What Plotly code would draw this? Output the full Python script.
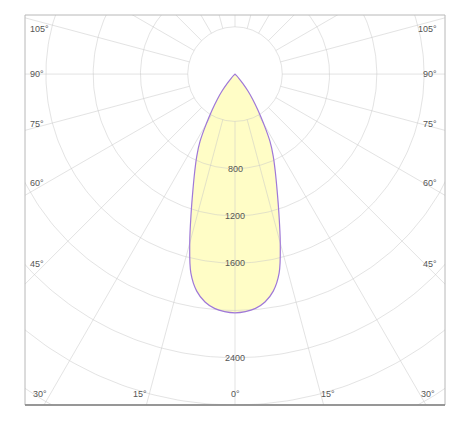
import numpy as np
import plotly.graph_objects as go

# ---- data ----
gamma_deg = [0, 2.5, 5, 7.5, 10, 12.5, 15, 17.5, 20, 22.5, 25, 27.5, 30, 32.5,
             35, 37.5, 40, 42.5, 45, 50, 60, 70, 80, 90]
intensity_cd = [2020, 2012, 1990, 1945, 1865, 1725, 1480, 1235, 1040, 890, 765, 640,
                485, 360, 262, 178, 102, 48, 16, 0, 0, 0, 0, 0]

circle_values = [400, 800, 1200, 1600, 2000, 2400, 2800, 3200]
spoke_angles = list(range(0, 360, 15))
radial_tick_labels = ["800", "1200", "1600", "2400"]
radial_tick_values = [800, 1200, 1600, 2400]

side_labels = ["105°", "90°", "75°", "60°", "45°"]
bottom_labels = ["30°", "15°", "0°", "15°", "30°"]

# ---- layout geometry ----
W, H = 468, 423
L, R, T, B = 25, 23, 15, 18
x_range = [-1777, 1777]
y_range = [-2800, 500]
sx = (x_range[1] - x_range[0]) / (W - L - R)
sy = (y_range[1] - y_range[0]) / (H - T - B)


def px2data(xp, yp):
    return (x_range[0] + (xp - L) * sx, y_range[1] - (yp - T) * sy)


def polar_xy(r, g_deg):
    g = np.radians(np.asarray(g_deg, dtype=float))
    r = np.asarray(r, dtype=float)
    return r * np.sin(g), -r * np.cos(g)


# full closed curve (symmetric)
g_full = np.concatenate([np.array(gamma_deg), -np.array(gamma_deg[::-1])])
r_full = np.concatenate([np.array(intensity_cd), np.array(intensity_cd[::-1])])
cx, cy = polar_xy(r_full, g_full)

fig = go.Figure()

# fill
fig.add_trace(go.Scatter(x=cx, y=cy, mode="lines", fill="toself",
                         fillcolor="#fffdc6", line=dict(width=0, shape="spline", smoothing=1.0),
                         hoverinfo="skip", showlegend=False))

# grid circles
gx, gy = [], []
th = np.linspace(0, 360, 361)
for rv in circle_values:
    x, y = polar_xy(np.full_like(th, rv), th)
    gx += list(x) + [None]
    gy += list(y) + [None]
# spokes
for a in spoke_angles:
    x, y = polar_xy([circle_values[0], 5000], [a, a])
    gx += list(x) + [None]
    gy += list(y) + [None]
fig.add_trace(go.Scatter(x=gx, y=gy, mode="lines",
                         line=dict(color="rgba(200,200,200,0.5)", width=1),
                         hoverinfo="skip", showlegend=False))

# outline
fig.add_trace(go.Scatter(x=cx, y=cy, mode="lines",
                         line=dict(color="#9f78d8", width=1.2, shape="spline", smoothing=1.0),
                         hoverinfo="skip", showlegend=False))

font = dict(family="Liberation Sans, Arial, sans-serif", size=9, color="#555555")
ann = []
for t, v in zip(radial_tick_labels, radial_tick_values):
    x, y = polar_xy(v, 0)
    ann.append(dict(x=float(x), y=float(y), text=t, showarrow=False, xref="x", yref="y",
                    xanchor="center", yanchor="middle", font=font))

side_y = [29, 74, 124, 183, 264]
for t, yp in zip(side_labels, side_y):
    xl, yd = px2data(28, yp)
    xr, _ = px2data(439, yp)
    ann.append(dict(x=xl, y=yd, text=t, showarrow=False, xanchor="left", yanchor="middle", font=font))
    ann.append(dict(x=xr, y=yd, text=t, showarrow=False, xanchor="right", yanchor="middle", font=font))

bottom_x = [40, 140, 235, 328, 428]
for t, xp in zip(bottom_labels, bottom_x):
    xd, yd = px2data(xp, 394)
    ann.append(dict(x=xd, y=yd, text=t, showarrow=False, xanchor="center", yanchor="middle", font=font))

fig.update_layout(
    width=W, height=H,
    margin=dict(l=L, r=R, t=T, b=B),
    paper_bgcolor="white", plot_bgcolor="white",
    xaxis=dict(range=x_range, visible=False, fixedrange=True),
    yaxis=dict(range=y_range, visible=False, fixedrange=True),
    annotations=ann,
    shapes=[
        dict(type="rect", xref="paper", yref="paper", x0=0, x1=1, y0=0, y1=1,
             line=dict(color="#b8b8b8", width=1), layer="above"),
        dict(type="line", xref="paper", yref="paper", x0=0, x1=1, y0=0, y1=0,
             line=dict(color="#808080", width=1.5), layer="above"),
    ],
)

fig.write_html("out.html")
